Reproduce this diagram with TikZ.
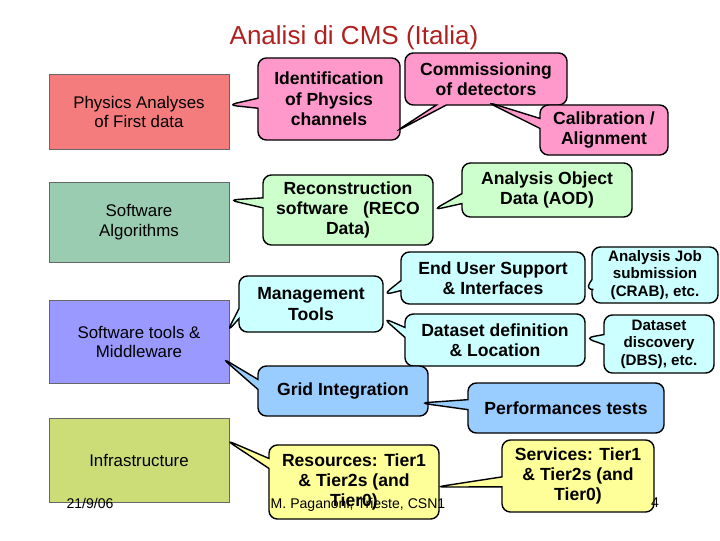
\documentclass[tikz,border=0pt]{standalone}
\usepackage{fontspec}
\setmainfont{Liberation Sans}
\usetikzlibrary{shapes.callouts}
\definecolor{phys}{HTML}{F47C7C}
\definecolor{alg}{HTML}{99CCB0}
\definecolor{tools}{HTML}{9999FF}
\definecolor{infra}{HTML}{CCDD77}
\definecolor{pink}{HTML}{FF99CC}
\definecolor{lgreen}{HTML}{CCFFCC}
\definecolor{lcyan}{HTML}{CCFFFF}
\definecolor{lblue}{HTML}{99CCFF}
\definecolor{lyellow}{HTML}{FFFF99}
\definecolor{ttl}{HTML}{B02020}
\begin{document}
\begin{tikzpicture}[x=0.025cm,y=-0.025cm,
  lbox/.style={draw=black!60,line width=0.3pt,align=center,font=\fontsize{12}{14}\selectfont},
  co/.style={rectangle callout,draw,line width=1pt,rounded corners=6pt,align=center,inner sep=0pt,font=\bfseries\fontsize{12.5}{14.5}\selectfont},
  sm/.style={font=\bfseries\fontsize{10.8}{12.5}\selectfont}]
\useasboundingbox (0,0) rectangle (720,540);
\node[text=ttl,font=\fontsize{18.5}{20}\selectfont] (title) at (354,38) {Analisi di CMS (Italia)};
% left boxes
\node[lbox,fill=phys,minimum width=4.5cm,minimum height=1.875cm] (phys) at (139,112) {Physics Analyses\\of First data};
\node[lbox,fill=alg,minimum width=4.5cm,minimum height=2cm] (alg) at (139,222) {Software\\Algorithms};
\node[lbox,fill=tools,minimum width=4.5cm,minimum height=2.075cm] (tools) at (139,342) {Software tools \&\\Middleware};
\node[lbox,fill=infra,minimum width=4.5cm,minimum height=2.1cm] (infra) at (139,460) {Infrastructure};
% tips
\coordinate (t1) at (228,105);
\coordinate (t2) at (395,132);
\coordinate (t3) at (487,102);
\coordinate (t4) at (229,200);
\coordinate (t5) at (433,210);
\coordinate (t6) at (227,332);
\coordinate (t7) at (383,295);
\coordinate (t8) at (585,290);
\coordinate (t9) at (383,318);
\coordinate (t10) at (585,338);
\coordinate (t11) at (222,358);
\coordinate (t12) at (420,403);
\coordinate (t13) at (226,440);
\coordinate (t14) at (436,487);
% callouts
\node[co,fill=pink,minimum width=3.55cm,minimum height=2.05cm,callout absolute pointer={(t1)}] (ident) at (329,99) {Identification\\of Physics\\channels};
\node[co,fill=pink,minimum width=4.05cm,minimum height=1.3cm,callout absolute pointer={(t2)}] (comm) at (486,79) {Commissioning\\of detectors};
\node[co,fill=pink,minimum width=3.2cm,minimum height=1.25cm,callout absolute pointer={(t3)}] (calib) at (604,130) {Calibration /\\Alignment};
\node[co,fill=lgreen,minimum width=4.25cm,minimum height=1.75cm,callout absolute pointer={(t4)}] (reco) at (348,210) {Reconstruction\\software\ \ \ (RECO\\Data)};
\node[co,fill=lgreen,minimum width=4.25cm,minimum height=1.35cm,callout absolute pointer={(t5)}] (aod) at (547,190) {Analysis Object\\Data (AOD)};
\node[co,fill=lcyan,minimum width=3.6cm,minimum height=1.4cm,callout absolute pointer={(t6)}] (mgmt) at (311,304) {Management\\Tools};
\node[co,fill=lcyan,minimum width=4.6cm,minimum height=1.3cm,callout absolute pointer={(t7)}] (eus) at (493,278) {End User Support\\\& Interfaces};
\node[co,fill=lcyan,sm,minimum width=3.15cm,minimum height=1.4cm,callout absolute pointer={(t8)}] (crab) at (655,275) {Analysis Job\\submission\\(CRAB), etc.};
\node[co,fill=lcyan,minimum width=4.5cm,minimum height=1.3cm,callout absolute pointer={(t9)}] (dsd) at (495,340) {Dataset definition\\\& Location};
\node[co,fill=lcyan,sm,minimum width=2.75cm,minimum height=1.45cm,callout absolute pointer={(t10)}] (dbs) at (659,344) {Dataset\\discovery\\(DBS), etc.};
\node[co,fill=lblue,minimum width=4.25cm,minimum height=1.25cm,callout absolute pointer={(t11)}] (grid) at (343,391) {Grid Integration};
\node[co,fill=lblue,minimum width=4.9cm,minimum height=1.25cm,callout absolute pointer={(t12)}] (perf) at (566,408) {Performances tests};
\node[co,fill=lyellow,minimum width=4.25cm,minimum height=1.85cm,callout absolute pointer={(t13)}] (res) at (354,482) {Resources: Tier1\\\& Tier2s (and\\Tier0)};
\node[co,fill=lyellow,minimum width=3.8cm,minimum height=1.8cm,callout absolute pointer={(t14)}] (serv) at (578,476) {Services: Tier1\\\& Tier2s (and\\Tier0)};
% footer
\node[font=\fontsize{10}{11}\selectfont] (date) at (90,503) {21/9/06};
\node[font=\fontsize{10}{11}\selectfont] (auth) at (358,505) {M. Paganoni, Trieste, CSN1};
\node[font=\fontsize{10}{11}\selectfont] (pg) at (655,503) {4};
\end{tikzpicture}
\end{document}
